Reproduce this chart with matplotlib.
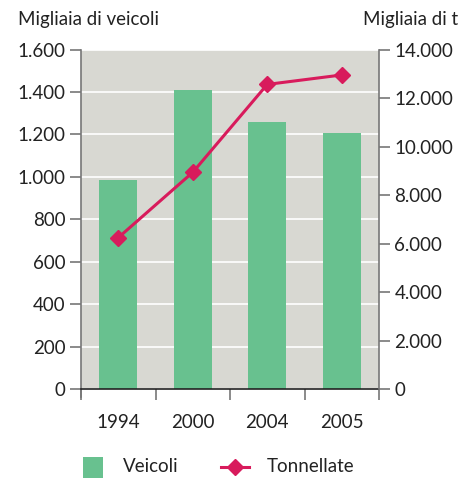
import matplotlib
matplotlib.use("Agg")
import matplotlib.pyplot as plt
from matplotlib.lines import Line2D
from matplotlib.patches import Rectangle

years = ["1994", "2000", "2004", "2005"]
veicoli = [985, 1408, 1258, 1206]
tonnellate = [6240, 8935, 12560, 12950]
left_ticks = [0, 200, 400, 600, 800, 1000, 1200, 1400, 1600]
left_labels = ["0", "200", "400", "600", "800", "1.000", "1.200", "1.400", "1.600"]
right_ticks = [0, 2000, 4000, 6000, 8000, 10000, 12000, 14000]
right_labels = ["0", "2.000", "4.000", "6.000", "8.000", "10.000", "12.000", "14.000"]
legend_labels = ["Veicoli", "Tonnellate"]

plt.rcParams['font.family'] = ['Lato', 'DejaVu Sans']
FS = 13.5
BAR = "#68c18f"
BG = "#d8d8d2"
LINE = "#d81b5c"
TXT = "#222222"
SPINE = "#777777"
W, H = 472, 479

fig = plt.figure(figsize=(4.72, 4.79), dpi=100)
ax = fig.add_axes([81/W, 90/H, 298/W, 339.5/H])
ax.set_facecolor(BG)
x = list(range(len(years)))
ax.bar(x, veicoli, width=0.51, color=BAR, zorder=2)
ax.set_ylim(0, 1600)
ax.set_xlim(-0.5, 3.5)
ax.set_yticks(left_ticks)
ax.set_yticklabels(left_labels)
ax.yaxis.grid(True, color="white", linewidth=1.2, zorder=1)
ax.set_axisbelow(True)
ax.set_xticks([-0.5, 0.5, 1.5, 2.5, 3.5])
ax.set_xticklabels([])
ax.set_xticks(x, minor=True)
ax.set_xticklabels(years, minor=True)
ax.tick_params(axis='x', which='minor', length=0, pad=18, labelsize=FS, labelcolor=TXT)
ax.tick_params(axis='x', which='major', length=8, width=1.2, color=SPINE, direction='out')
ax.tick_params(axis='y', length=8, width=1.2, color=SPINE, direction='out', labelsize=FS, labelcolor=TXT, pad=3)
for s in ['top', 'right']:
    ax.spines[s].set_visible(False)
ax.spines['left'].set_color(SPINE)
ax.spines['left'].set_linewidth(1.2)
ax.spines['left'].set_bounds(-40, 1600)
ax.spines['bottom'].set_color("#222222")
ax.spines['bottom'].set_linewidth(1.2)

ax2 = ax.twinx()
ax2.plot(x, tonnellate, color=LINE, linewidth=2.2, marker='D', markersize=8.5, zorder=5)
ax2.set_ylim(0, 14000)
ax2.set_yticks(right_ticks)
ax2.set_yticklabels(right_labels)
ax2.tick_params(axis='y', length=8, width=1.2, color=SPINE, direction='out', labelsize=FS, labelcolor=TXT, pad=3)
for s in ['top', 'left', 'bottom']:
    ax2.spines[s].set_visible(False)
ax2.spines['right'].set_color(SPINE)
ax2.spines['right'].set_linewidth(1.2)

fig.text(18/W, 1 - 20/H, "Migliaia di veicoli", fontsize=FS, color=TXT, ha='left', va='center')
fig.text(458/W, 1 - 20/H, "Migliaia di t", fontsize=FS, color=TXT, ha='right', va='center')

# legend drawn in figure coordinates
ly = 1 - 467/H
fig.patches.append(Rectangle((83/W, 1 - 478/H), 20/W, 21/H, transform=fig.transFigure,
                             facecolor=BAR, edgecolor='none'))
fig.text(123/W, ly, legend_labels[0], fontsize=FS, color=TXT, ha='left', va='center')
fig.lines.append(Line2D([221/W, 249/W], [ly, ly], transform=fig.transFigure, color=LINE,
                        linewidth=2.2))
fig.lines.append(Line2D([235/W], [ly], transform=fig.transFigure, color=LINE,
                        marker='D', markersize=8.5, linestyle='none'))
fig.text(267/W, ly, legend_labels[1], fontsize=FS, color=TXT, ha='left', va='center')

fig.savefig("out.png", dpi=100)
